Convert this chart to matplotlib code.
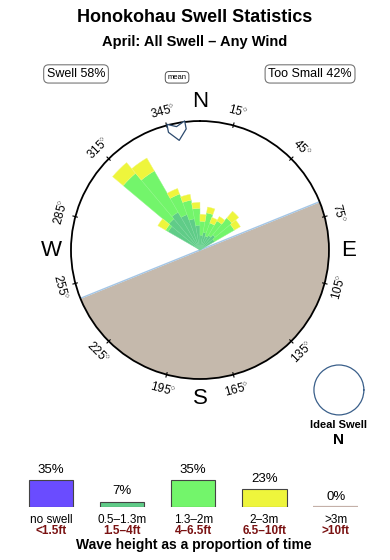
import numpy as np
import matplotlib
matplotlib.use("Agg")
import matplotlib.pyplot as plt
from matplotlib.path import Path
from matplotlib.markers import MarkerStyle
from matplotlib.transforms import Affine2D

plt.rcParams["font.family"] = ["Liberation Sans", "DejaVu Sans"]
plt.rcParams["mathtext.fontset"] = "custom"
plt.rcParams["mathtext.rm"] = "Liberation Sans"

# ---- data ----
title = "Honokohau Swell Statistics"
subtitle = "April: All Swell \u2013 Any Wind"
swell_pct = 58
too_small_pct = 42
mean_dir = 349

# rose: 10 degree bins, cumulative outer radius of each layer (circle = 130)
rose_max = 130
directions = [305, 315, 325, 335, 345, 355, 5, 15, 25, 35, 45, 55]
dark_top = [37, 41, 44, 38, 32, 25, 15, 18, 15, 17, 20, 17]
light_top = [40, 101, 92, 60, 51, 42, 29, 38, 29, 34, 42, 40]
yellow_top = [49, 115, 107, 66, 57, 48, 36, 44, 35, 39, 51, 47]

# coastline: land spans these bearings
land_from, land_to = 68, 248

tick_bearings = [15, 45, 75, 105, 135, 165, 195, 225, 255, 285, 315, 345]
cardinals = {"N": 0, "E": 90, "S": 180, "W": 270}

# legend bars
bin_labels = ["no swell", "0.5\u20131.3m", "1.3\u20132m", "2\u20133m", ">3m"]
bin_feet = ["<1.5ft", "1.5\u20134ft", "4\u20136.5ft", "6.5\u201310ft", ">10ft"]
bin_pct = [35, 7, 35, 23, 0]
bin_colors = ["#6a4cff", "#60cc88", "#73f56b", "#eef53c", "#c4b0a8"]

land_color = "#c5b9ac"
shore_color = "#a4c6e6"

fig = plt.figure(figsize=(3.9, 5.6), dpi=100)

# ---- titles and header boxes ----
fig.text(0.5, 0.968, title, ha="center", va="center", fontsize=13, fontweight="bold")
fig.text(0.5, 0.925, subtitle, ha="center", va="center", fontsize=10.5, fontweight="bold")

box = dict(boxstyle="round,pad=0.25,rounding_size=0.4", fc="white", ec="#777777", lw=0.8)
fig.text(0.195, 0.868, f"Swell {swell_pct}%", ha="center", va="center", fontsize=9, bbox=box)
fig.text(0.795, 0.868, f"Too Small {too_small_pct}%", ha="center", va="center", fontsize=9, bbox=box)
fig.text(0.454, 0.862, "mean", ha="center", va="center", fontsize=5.5,
         bbox=dict(boxstyle="round,pad=0.3,rounding_size=0.5", fc="white", ec="#555555", lw=0.7))

# ---- rose ----
ax = fig.add_axes([0.182, 0.3232, 0.6615, 0.4607], projection="polar")
ax.set_theta_zero_location("N")
ax.set_theta_direction(-1)
ax.set_ylim(0, rose_max)
ax.set_xticks([])
ax.set_yticks([])
ax.grid(False)
ax.spines["polar"].set_linewidth(1.3)
ax.spines["polar"].set_color("black")

# land
th = np.radians(np.linspace(land_from, land_to, 200))
ax.fill_between(th, 0, rose_max, color=land_color, lw=0, zorder=1)
for b in (land_from, land_to):
    ax.plot([np.radians(b)] * 2, [0, rose_max], color=shore_color, lw=1, zorder=2)

# stacked wedges
theta = np.radians(directions)
w = np.radians(10)
dark = np.array(dark_top)
light = np.array(light_top)
yellow = np.array(yellow_top)
ax.bar(theta, dark, width=w, bottom=0, color=bin_colors[1], ec="#7ad89c", lw=0.3, zorder=3)
ax.bar(theta, light - dark, width=w, bottom=dark, color=bin_colors[2], ec="#8ef785", lw=0.3, zorder=3)
ax.bar(theta, yellow - light, width=w, bottom=light, color=bin_colors[3], ec="#f2f77a", lw=0.3, zorder=3)

# degree ticks and labels
for b in tick_bearings:
    t = np.radians(b)
    ax.plot([t, t], [rose_max - 2, rose_max + 2.5], color="black", lw=0.8, clip_on=False, zorder=4)
    rot = 180 - b if 90 < b < 270 else -b
    ax.text(t, 145, f"{b}$^{{\\circ}}$", rotation=rot, rotation_mode="anchor",
            ha="center", va="center", fontsize=8.5)

for name, b in cardinals.items():
    ax.text(np.radians(b), 150, name, ha="center", va="center", fontsize=16)

# mean direction arrow
verts = [(-1, 1), (0, 0.55), (1, 1), (1, 0.1), (0, -1), (-1, 0.1), (-1, 1)]
codes = [Path.MOVETO] + [Path.LINETO] * 5 + [Path.CLOSEPOLY]
arrow = MarkerStyle(Path(verts, codes), transform=Affine2D().rotate_deg(-mean_dir))
ax.plot([np.radians(mean_dir)], [122], marker=arrow, markersize=13,
        mfc="white", mec="#2c4a6e", mew=0.9, clip_on=False, zorder=6)

# ---- ideal swell mini circle ----
ax2 = fig.add_axes([0.805, 0.259, 0.128, 0.0893], projection="polar")
ax2.set_xticks([])
ax2.set_yticks([])
ax2.grid(False)
ax2.spines["polar"].set_color("#3a5f8a")
ax2.spines["polar"].set_linewidth(0.9)
fig.text(0.869, 0.241, "Ideal Swell", ha="center", va="center", fontsize=8, fontweight="bold")
fig.text(0.869, 0.214, "N", ha="center", va="center", fontsize=11, fontweight="bold")

# ---- height legend ----
ax3 = fig.add_axes([0.039, 0.0946, 0.913, 0.0689])
x = np.arange(len(bin_pct))
edges = ["#444444"] * 4 + [bin_colors[4]]
ax3.bar(x, bin_pct, width=0.625, color=bin_colors, edgecolor=edges, lw=[0.8] * 4 + [1.6])
ax3.set_xlim(-0.5, len(bin_pct) - 0.5)
ax3.set_ylim(0, 50)
ax3.axis("off")
for i, p in enumerate(bin_pct):
    ax3.annotate(f"{p}%", (x[i], p), xytext=(0, 3), textcoords="offset points",
                 ha="center", va="bottom", fontsize=9.5)
    ax3.annotate(bin_labels[i], (x[i], 0), xytext=(0, -9), textcoords="offset points",
                 ha="center", va="center", fontsize=8.5)
    ax3.annotate(bin_feet[i], (x[i], 0), xytext=(0, -17), textcoords="offset points",
                 ha="center", va="center", fontsize=8.5, fontweight="bold", color="#7a1212")

fig.text(0.497, 0.027, "Wave height as a proportion of time", ha="center", va="center",
         fontsize=10, fontweight="bold")

fig.savefig("out.png", dpi=100)
